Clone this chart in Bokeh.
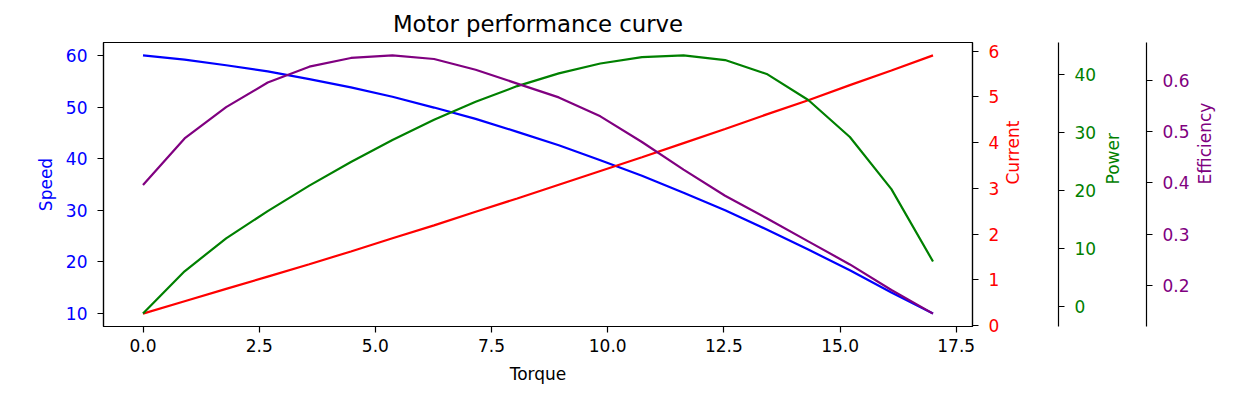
import math
from bokeh.plotting import figure
from bokeh.models import Range1d, LinearAxis, FixedTicker, NumeralTickFormatter
from bokeh.embed import file_html
from bokeh.resources import INLINE

# ---- data ----
torque = [0.0, 0.895, 1.789, 2.684, 3.579, 4.474, 5.368, 6.263, 7.158, 8.053,
          8.947, 9.842, 10.737, 11.632, 12.526, 13.421, 14.316, 15.211, 16.105, 17.0]
speed = [60.0, 59.2, 58.1, 56.9, 55.4, 53.8, 52.0, 49.9, 47.7, 45.2,
         42.6, 39.7, 36.7, 33.4, 30.0, 26.3, 22.4, 18.4, 14.1, 10.0]
current = [0.26, 0.53, 0.80, 1.07, 1.34, 1.62, 1.91, 2.19, 2.49, 2.78,
           3.08, 3.38, 3.68, 3.99, 4.30, 4.62, 4.93, 5.26, 5.58, 5.91]
power = [-1.3, 6.0, 11.7, 16.4, 20.8, 24.9, 28.7, 32.2, 35.3, 38.0,
         40.2, 41.9, 43.0, 43.3, 42.5, 40.1, 35.6, 29.2, 20.2, 7.7]
efficiency = [0.396, 0.487, 0.548, 0.596, 0.627, 0.644, 0.649, 0.642, 0.621, 0.594,
              0.567, 0.530, 0.480, 0.426, 0.375, 0.331, 0.286, 0.241, 0.191, 0.145]

x_ticks = [0.0, 2.5, 5.0, 7.5, 10.0, 12.5, 15.0, 17.5]
speed_ticks = [10, 20, 30, 40, 50, 60]
current_ticks = [0, 1, 2, 3, 4, 5, 6]
power_ticks = [0, 10, 20, 30, 40]
eff_ticks = [0.2, 0.3, 0.4, 0.5, 0.6]

title_text = "Motor performance curve"
FONT = "DejaVu Sans"
TICK_FS = "17px"
LABEL_FS = "17px"


def padded(vals):
    lo, hi = min(vals), max(vals)
    r = hi - lo
    return Range1d(lo - 0.05 * r, hi + 0.05 * r)


p = figure(width=1241, height=390, output_backend="svg", toolbar_location=None,
           x_range=padded(torque), y_range=padded(speed),
           min_border_left=103, min_border_right=269, min_border_top=42, min_border_bottom=64)
p.extra_y_ranges = {"current": padded(current), "power": padded(power), "eff": padded(efficiency)}

p.xgrid.visible = False
p.ygrid.visible = False
p.outline_line_color = "black"
p.outline_line_width = 1.2
p.background_fill_color = "white"
p.border_fill_color = "white"

p.title.text = title_text
p.title.align = "center"
p.title.text_font = FONT
p.title.text_font_size = "22.8px"
p.title.text_font_style = "normal"
p.title.text_color = "black"
p.title.standoff = 12


def style_axis(ax, color, label, ticks, fmt, label_standoff=8):
    ax.ticker = FixedTicker(ticks=ticks)
    ax.formatter = NumeralTickFormatter(format=fmt)
    ax.axis_label = label
    ax.axis_label_text_color = color
    ax.axis_label_text_font = FONT
    ax.axis_label_text_font_size = LABEL_FS
    ax.axis_label_text_font_style = "normal"
    ax.major_label_text_color = color
    ax.major_label_text_font = FONT
    ax.major_label_text_font_size = TICK_FS
    ax.axis_line_color = "black"
    ax.axis_line_width = 1.2
    ax.major_tick_line_color = "black"
    ax.major_tick_line_width = 1.2
    ax.major_tick_out = 6
    ax.major_tick_in = 0
    ax.minor_tick_line_color = None
    ax.major_label_standoff = 10
    ax.axis_label_standoff = label_standoff


# bottom axis
style_axis(p.xaxis[0], "black", "Torque", x_ticks, "0.0", 9)
p.xaxis[0].major_label_standoff = 6
# left axis (speed)
style_axis(p.yaxis[0], "blue", "Speed", speed_ticks, "0", 7)


def spacer(width, rng):
    return LinearAxis(y_range_name=rng, ticker=FixedTicker(ticks=[]),
                      axis_line_color=None, major_tick_line_color=None,
                      minor_tick_line_color=None, major_tick_out=0, major_tick_in=0,
                      minor_tick_out=0, major_label_text_font_size="1px",
                      axis_label=" ", axis_label_standoff=width,
                      axis_label_text_font_size="1px")


ax_cur = LinearAxis(y_range_name="current")
style_axis(ax_cur, "red", "Current", current_ticks, "0", 11)
ax_cur.axis_label_orientation = math.pi / 2
ax_pow = LinearAxis(y_range_name="power")
style_axis(ax_pow, "green", "Power", power_ticks, "0", 14)
ax_pow.axis_label_orientation = math.pi / 2
ax_eff = LinearAxis(y_range_name="eff")
style_axis(ax_eff, "purple", "Efficiency", eff_ticks, "0.0", 12)
ax_eff.axis_label_orientation = math.pi / 2

p.add_layout(ax_cur, "right")
p.add_layout(spacer(18, "current"), "right")
p.add_layout(ax_pow, "right")
p.add_layout(spacer(6, "power"), "right")
p.add_layout(ax_eff, "right")

LW = 2.2
p.line(torque, speed, line_color="blue", line_width=LW)
p.line(torque, current, line_color="red", line_width=LW, y_range_name="current")
p.line(torque, power, line_color="green", line_width=LW, y_range_name="power")
p.line(torque, efficiency, line_color="purple", line_width=LW, y_range_name="eff")

open("out.html", "w").write(file_html(p, INLINE))
